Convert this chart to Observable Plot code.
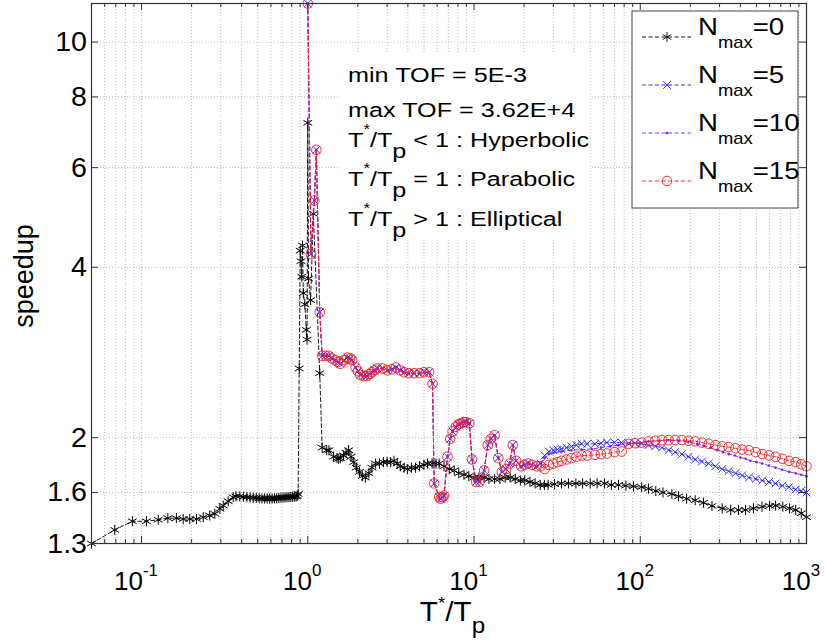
<!DOCTYPE html>
<html><head><meta charset="utf-8">
<script src="https://cdn.jsdelivr.net/npm/d3@7"></script>
<script src="https://cdn.jsdelivr.net/npm/@observablehq/plot@0.6"></script>
<style>
body{margin:0;background:#fff;}
#chart{position:relative;width:826px;height:642px;}
</style></head><body><div id="chart"></div>
<script>
// ---------- data ----------
// N_max = 0 (black), hyperbolic part
const n0HypX = [0.05,0.069,0.088,0.107,0.126,0.144,0.162,0.178,0.195,0.214,0.235,0.257,0.276,0.296,0.31,0.332,0.356,0.37,0.39,0.41,0.43,0.45,0.47,0.49,0.51,0.53,0.55,0.57,0.59,0.61,0.63,0.65,0.67,0.69,0.71,0.73,0.75,0.77,0.79,0.81,0.83,0.85,0.865,0.875];
const n0HypY = [1.3,1.374,1.423,1.423,1.432,1.441,1.441,1.436,1.436,1.436,1.447,1.457,1.467,1.497,1.517,1.544,1.569,1.575,1.575,1.572,1.570,1.568,1.566,1.565,1.563,1.562,1.562,1.561,1.560,1.561,1.562,1.563,1.565,1.566,1.567,1.568,1.569,1.570,1.571,1.572,1.573,1.575,1.578,1.59];
// N_max = 0, near-parabolic spike
const n0PeakX = [0.888,0.90,0.91,0.92,0.93,0.94,0.96,0.98,0.99,1.0,1.01,1.04,1.08,1.18,1.22];
const n0PeakY = [2.65,4.28,4.1,3.85,4.37,3.6,3.44,3.1,2.98,7.2,3.82,3.5,4.97,2.6,1.92];
// N_max = 0, elliptical part
const n0EllX = [1.3,1.34,1.43,1.5,1.535,1.57,1.64,1.70,1.76,1.82,1.89,1.96,2.05,2.13,2.22,2.33,2.43,2.56,2.7,2.85,3.0,3.15,3.3,3.45,3.6,3.8,3.97,4.2,4.45,4.7,5.0,5.25,5.6,5.9,6.17,6.6,7.1,7.6,8.1,8.7,9.3,10.0,10.7,11.5,12.3,13.3,14.3,15.4,16.5,17.7,19.0,20.2,21.7,23.3,25.0,26.5,27.9,30.5,33.6,37,41,45,50,55,61,67,74,82,91,102,112,124,137,155,170,190,214,240,270,311,350,390,430,480,540,600,652,720,790,861,930,1000];
const n0EllY = [1.9,1.90,1.85,1.84,1.835,1.84,1.86,1.88,1.90,1.85,1.81,1.77,1.74,1.71,1.70,1.73,1.77,1.80,1.80,1.81,1.81,1.81,1.82,1.80,1.78,1.77,1.76,1.77,1.77,1.78,1.79,1.80,1.80,1.80,1.80,1.78,1.76,1.75,1.73,1.72,1.71,1.70,1.70,1.70,1.69,1.69,1.69,1.70,1.70,1.69,1.68,1.68,1.67,1.66,1.65,1.65,1.65,1.655,1.66,1.66,1.66,1.66,1.66,1.66,1.66,1.65,1.65,1.645,1.64,1.635,1.625,1.61,1.60,1.59,1.575,1.56,1.55,1.535,1.515,1.50,1.49,1.49,1.49,1.50,1.51,1.515,1.517,1.51,1.50,1.49,1.47,1.447];
// N_max = 5, 10, 15 : common part (curves coincide)
const multiX = [1.0,1.045,1.095,1.126,1.18,1.22,1.28,1.336,1.40,1.466,1.52,1.57,1.65,1.73,1.8,1.85,1.94,2.0,2.07,2.17,2.27,2.35,2.43,2.52,2.62,2.8,3.01,3.2,3.38,3.6,3.8,4.05,4.36,4.7,5.0,5.37,5.63,5.76,6.17,6.3,6.47,6.6,6.93,7.19,7.43,7.78,8.05,8.35,8.65,8.95,9.37,9.73,10.3,10.8,11.5,12.1,12.6,13.3,14.0,14.7,15.6,16.4,17.1,17.9,19.2,20.1,21.1,22.4,23.8];
const multiY = [11.7,4.22,5.25,6.45,3.33,2.79,2.79,2.79,2.76,2.74,2.72,2.70,2.74,2.77,2.76,2.74,2.66,2.62,2.58,2.57,2.57,2.59,2.61,2.63,2.65,2.65,2.63,2.64,2.66,2.63,2.61,2.60,2.60,2.60,2.61,2.61,2.49,1.66,1.57,1.56,1.57,1.58,1.85,1.99,2.05,2.09,2.11,2.12,2.13,2.13,2.12,1.83,1.67,1.67,1.75,1.94,1.99,2.02,1.84,1.74,1.76,1.80,1.94,1.82,1.78,1.79,1.80,1.79,1.78];
// tails where the curves separate
const n5TailX = [25.2,26.6,28.2,30,31.8,33.6,36,38.5,41.3,44.4,48,53.4,58,63,70,77.3,85,93,102,112,123,135,148,162,178,195,214,235,258,283,311,340,374,410,450,495,542,595,652,715,785,861,930,1000];
const n5TailY = [1.80,1.86,1.89,1.90,1.905,1.91,1.92,1.93,1.94,1.95,1.95,1.95,1.955,1.96,1.96,1.96,1.955,1.955,1.95,1.94,1.93,1.92,1.90,1.885,1.87,1.85,1.83,1.815,1.80,1.78,1.76,1.745,1.73,1.715,1.70,1.69,1.68,1.67,1.66,1.645,1.635,1.62,1.61,1.60];
const n10TailX = [25.2,26.6,28.2,30,33.6,38.5,44.4,51,58,66,74,85,100,112,130,148,170,195,220,240,265,290,315,341,370,400,430,460,500,542,595,652,715,785,861,930,1000];
const n10TailY = [1.80,1.84,1.87,1.88,1.89,1.90,1.905,1.91,1.92,1.93,1.94,1.95,1.96,1.97,1.975,1.98,1.975,1.965,1.95,1.935,1.92,1.90,1.885,1.87,1.86,1.845,1.835,1.82,1.81,1.80,1.785,1.77,1.755,1.74,1.73,1.72,1.71];
const n15TailX = [25.2,26.6,28.2,30,31.8,33.6,36,38.5,41.3,44.4,48,53.4,58,63,70,77.3,85,93,102,112,123,135,148,162,178,195,214,235,258,283,311,340,374,410,450,495,542,595,652,715,785,861,930,1000];
const n15TailY = [1.78,1.76,1.79,1.80,1.81,1.82,1.83,1.84,1.85,1.86,1.86,1.865,1.87,1.875,1.885,1.89,1.95,1.955,1.96,1.97,1.975,1.98,1.98,1.98,1.98,1.975,1.97,1.96,1.95,1.94,1.93,1.925,1.915,1.905,1.90,1.885,1.87,1.86,1.85,1.835,1.82,1.81,1.795,1.78];

const seriesNames = ["0","5","10","15"];
const seriesColors = ["#000000","#1a1aff","#7a1fff","#ff1a1a"];
const seriesSymbols = ["asterisk","times","dot","circle"];

const xMajor = [0.1,1,10,100,1000];
const xExpLabels = ["-1","0","1","2","3"];
const yTicks = [1.3,1.6,2,4,6,8,10];
const yTickLabels = ["1.3","1.6","2","4","6","8","10"];
const annotationLines = [
  {pre:"min TOF = 5E-3"},
  {pre:"max TOF = 3.62E+4"},
  {rel:" < 1 : Hyperbolic"},
  {rel:" = 1 : Parabolic"},
  {rel:" > 1 : Elliptical"}
];

// ---------- build tables ----------
function zip(xs, ys){ return xs.map((x,i)=>({x, y: ys[i]})); }
const n0 = zip(n0HypX.concat(n0PeakX, n0EllX), n0HypY.concat(n0PeakY, n0EllY));
const n5 = zip(multiX.concat(n5TailX), multiY.concat(n5TailY));
const n10 = zip(multiX.concat(n10TailX), multiY.concat(n10TailY));
const n15 = zip(multiX.concat(n15TailX), multiY.concat(n15TailY));

const xMinor = [];
[0.01,0.1,1,10,100].forEach(d => { for (let k=2;k<=9;k++){ const v=+(k*d).toPrecision(3); if (v>=0.05 && v<=1000) xMinor.push(v);} });
const xGrid = xMinor.concat(xMajor);

// ---------- layout ----------
const W=826, H=642, mt=3, mr=20, mb=99, ml=91;
const fw=W-ml-mr, fh=H-mt-mb;
const grid = {stroke:"#bdbdbd", strokeDasharray:"1,2", strokeWidth:1};
const dash = "4,2.5";

const plot = Plot.plot({
  width: W, height: H, marginTop: mt, marginRight: mr, marginBottom: mb, marginLeft: ml,
  x: {type:"log", domain:[0.05,1000], axis:null},
  y: {type:"log", domain:[1.3,11.7], axis:null},
  style: {background:"#fff"},
  marks: [
    Plot.ruleX(xGrid, {x: d=>d, ...grid}),
    Plot.ruleY(yTicks, {y: d=>d, ...grid}),
    Plot.line(n0, {x:"x", y:"y", stroke:seriesColors[0], strokeWidth:0.9, strokeDasharray:dash}),
    Plot.dot(n0, {x:"x", y:"y", symbol:"asterisk", r:4.8, stroke:seriesColors[0], strokeWidth:1}),
    Plot.line(n5, {x:"x", y:"y", stroke:seriesColors[1], strokeWidth:0.9, strokeDasharray:dash}),
    Plot.dot(n5, {x:"x", y:"y", symbol:"times", r:3.6, stroke:seriesColors[1], strokeWidth:0.9}),
    Plot.line(n10, {x:"x", y:"y", stroke:seriesColors[2], strokeWidth:0.9, strokeDasharray:dash}),
    Plot.dot(n10, {x:"x", y:"y", r:1.3, fill:seriesColors[2], stroke:null}),
    Plot.line(n15, {x:"x", y:"y", stroke:seriesColors[3], strokeWidth:0.9, strokeDasharray:dash}),
    Plot.dot(n15, {x:"x", y:"y", symbol:"circle", r:4.8, fill:"none", stroke:seriesColors[3], strokeWidth:0.9}),
    // inward ticks on four sides
    Plot.tickX(xMajor, {x:d=>d, insetTop: fh-7, stroke:"#333"}),
    Plot.tickX(xMinor, {x:d=>d, insetTop: fh-4, stroke:"#333"}),
    Plot.tickX(xMajor, {x:d=>d, insetBottom: fh-7, stroke:"#333"}),
    Plot.tickX(xMinor, {x:d=>d, insetBottom: fh-4, stroke:"#333"}),
    Plot.tickY(yTicks, {y:d=>d, insetRight: fw-7, stroke:"#333"}),
    Plot.tickY(yTicks, {y:d=>d, insetLeft: fw-7, stroke:"#333"}),
    Plot.frame({stroke:"#333", strokeWidth:1.2})
  ]
});
document.getElementById("chart").appendChild(plot);

// ---------- text decorations ----------
const FONT = "'Liberation Sans', Arial, Helvetica, sans-serif";
const S = 1.15; // horizontal stretch of the original figure
const svg = d3.select(plot);
const xs = plot.scale("x"), ys = plot.scale("y");
const g = svg.append("g").style("font-family", FONT).attr("fill","#000").attr("text-anchor","start");

// y tick labels
yTicks.forEach((v,i) => {
  g.append("text").attr("transform", `translate(${ml-4},${ys.apply(v)+9.5}) scale(1.06,1)`)
    .attr("text-anchor","end").style("font-size","27px").text(yTickLabels[i]);
});
// x tick labels (10^e)
xMajor.forEach((v,i) => {
  const t = g.append("text").attr("transform", `translate(${xs.apply(v)-5},${H-mb+47})`)
    .attr("text-anchor","middle").style("font-size","26px");
  t.append("tspan").text("10");
  t.append("tspan").attr("dy",-14).style("font-size","17px").text(xExpLabels[i]);
});
// axis titles
g.append("text").attr("transform", `translate(33,276) rotate(-90)`)
  .attr("text-anchor","middle").style("font-size","27px").text("speedup");
{
  const t = g.append("text").attr("transform", `translate(${ml+fw/2+4},${H-21}) scale(1.1,1)`)
    .attr("text-anchor","middle").style("font-size","27px");
  t.append("tspan").text("T");
  t.append("tspan").attr("dy",-12).style("font-size","17px").text("*");
  t.append("tspan").attr("dy",12).text("/T");
  t.append("tspan").attr("dy",12).style("font-size","22px").text("p");
}

// annotation block
const ann = g.append("g");
ann.append("rect").attr("x",338).attr("y",52).attr("width",252).attr("height",188).attr("fill","#fff");
const annBase = [82,117,147,186,226];
annotationLines.forEach((L,i) => {
  const t = ann.append("text").attr("transform", `translate(348,${annBase[i]}) scale(1.2,1)`)
    .attr("text-anchor","start").style("font-size","21px");
  if (L.pre) { t.text(L.pre); return; }
  t.append("tspan").text("T");
  t.append("tspan").attr("dy",-13).style("font-size","14px").text("*");
  t.append("tspan").attr("dy",13).text("/T");
  t.append("tspan").attr("dy",11).text("p");
  t.append("tspan").attr("dy",-11).text(L.rel);
});

// legend
const leg = g.append("g");
leg.append("rect").attr("x",632).attr("y",11).attr("width",166).attr("height",197)
  .attr("fill","#fff").attr("stroke","#444").attr("stroke-width",1);
const rowY = [37,85,133,181];
const symType = {asterisk:d3.symbolAsterisk, times:d3.symbolTimes, circle:d3.symbolCircle};
seriesNames.forEach((name,i) => {
  const y = rowY[i], c = seriesColors[i];
  leg.append("line").attr("x1",642).attr("x2",691).attr("y1",y).attr("y2",y)
    .attr("stroke",c).attr("stroke-width",0.9).attr("stroke-dasharray",dash);
  const s = seriesSymbols[i];
  if (s === "dot") {
    leg.append("circle").attr("cx",667).attr("cy",y).attr("r",1.3).attr("fill",c);
  } else {
    const r = s === "times" ? 3.6 : 4.8;
    leg.append("path").attr("transform",`translate(667,${y})`)
      .attr("d", d3.symbol(symType[s], Math.PI*r*r)())
      .attr("fill","none").attr("stroke",c).attr("stroke-width",0.9);
  }
  const t = leg.append("text").attr("transform",`translate(698,${y-2}) scale(${S},1)`)
    .attr("text-anchor","start").style("font-size","24px");
  t.append("tspan").text("N");
  t.append("tspan").attr("dy",13).style("font-size","16px").text("max");
  t.append("tspan").attr("dy",-13).text("=" + name);
});
</script>
</body></html>
